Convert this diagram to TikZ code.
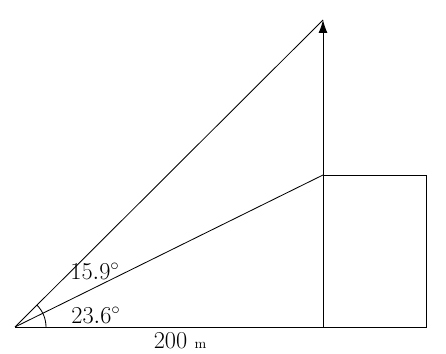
\documentclass[tikz,border=0pt]{standalone}
\usepackage{tikz}
\usetikzlibrary{arrows.meta, calc}

\begin{document}
\begin{tikzpicture}[
    x=0.025cm, y=0.025cm,
    edge/.style={line width=0.6pt},
    arrow/.style={-{Latex[length=3.2mm, width=2.2mm]}, line width=0.6pt},
    anglabel/.style={font=\LARGE}
]
\useasboundingbox (0,0) rectangle (446,354);

% Points
\coordinate (origin) at (15,27);
\coordinate (base) at (323,27);
\coordinate (corner) at (323,179);
\coordinate (top) at (323,334);
\coordinate (boxbr) at (426,27);
\coordinate (boxtr) at (426,179);

% Lines of sight
\draw[edge] (origin) -- (base);
\draw[edge] (origin) -- (corner);
\draw[edge] (origin) -- (top);

% Vertical rise
\draw[arrow] (base) -- (top);

% Box
\draw[edge] (corner) -- (boxtr) -- (boxbr) -- (base);

% Angle arc
\draw[edge] ($(origin)+(31,0)$) arc[start angle=0, end angle=45, radius=31];

% Labels
\node[anglabel] (upper) at (95,83) {$15.9^\circ$};
\node[anglabel] (lower) at (96,39) {$23.6^\circ$};
\node[anglabel] (dist) at (180,13) {$200$ {\normalsize m}};

\end{tikzpicture}
\end{document}
